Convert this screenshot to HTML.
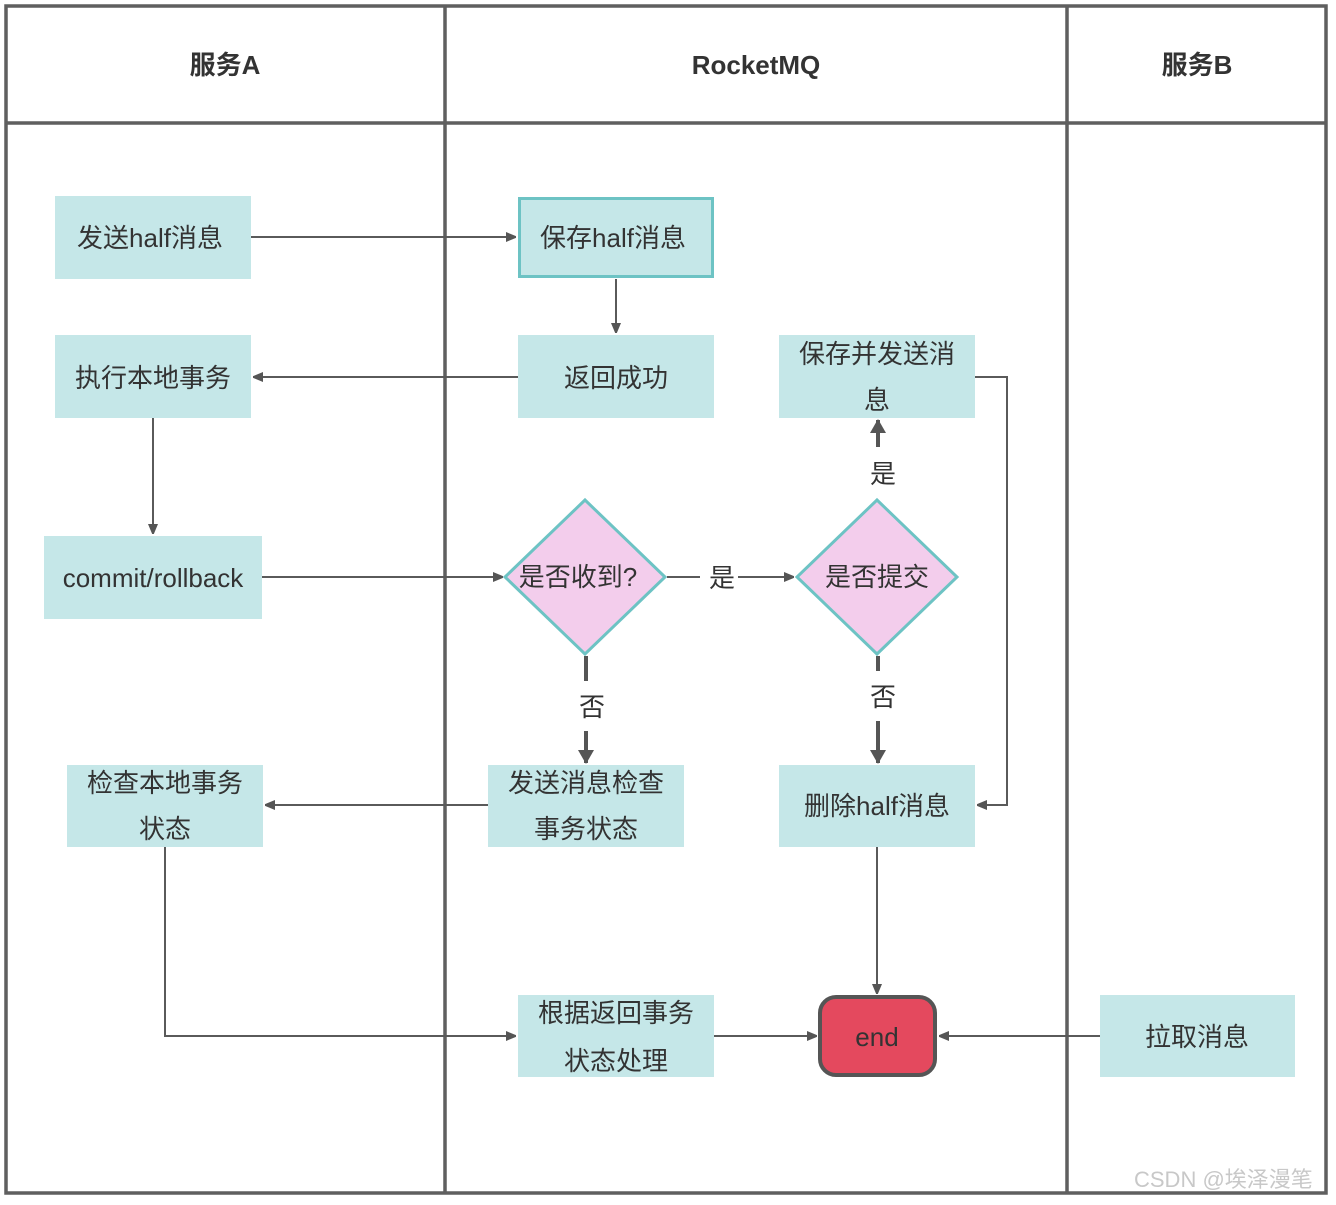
<!DOCTYPE html>
<html><head><meta charset="utf-8"><style>
html,body{margin:0;padding:0;background:#fff;}
svg text{font-family:"Liberation Sans","Noto Sans CJK SC",sans-serif;fill:#333;}
</style></head><body>
<svg width="1336" height="1200" viewBox="0 0 1336 1200" xmlns="http://www.w3.org/2000/svg">
<defs>
<marker id="a" markerWidth="10" markerHeight="10" refX="9" refY="5" orient="auto" markerUnits="userSpaceOnUse"><path d="M0,0 L12,5 L0,10 Z" fill="#555"/></marker>
<marker id="b" markerWidth="14" markerHeight="16" refX="13" refY="8" orient="auto" markerUnits="userSpaceOnUse"><path d="M0,0 L14,8 L0,16 Z" fill="#555"/></marker>
</defs>
<rect x="0" y="0" width="1336" height="1200" fill="#fff"/>
<!-- lanes -->
<rect x="6" y="6" width="1320" height="1187" fill="none" stroke="#5f5f5f" stroke-width="3.5"/>
<line x1="6" y1="123" x2="1326" y2="123" stroke="#5f5f5f" stroke-width="3.5"/>
<line x1="445" y1="6" x2="445" y2="1193" stroke="#5f5f5f" stroke-width="3.5"/>
<line x1="1067" y1="6" x2="1067" y2="1193" stroke="#5f5f5f" stroke-width="3.5"/>
<g font-weight="bold" font-size="26" text-anchor="middle">
<text x="225" y="74">服务A</text>
<text x="756" y="74">RocketMQ</text>
<text x="1197" y="74">服务B</text>
</g>
<!-- connectors -->
<g stroke="#5a5a5a" stroke-width="2" fill="none">
<line x1="251" y1="237" x2="515" y2="237" marker-end="url(#a)"/>
<line x1="616" y1="279" x2="616" y2="332" marker-end="url(#a)"/>
<line x1="518" y1="377" x2="254" y2="377" marker-end="url(#a)"/>
<line x1="153" y1="418" x2="153" y2="533" marker-end="url(#a)"/>
<line x1="262" y1="577" x2="502" y2="577" marker-end="url(#a)"/>
<line x1="667" y1="577" x2="700" y2="577"/>
<line x1="738" y1="577" x2="793" y2="577" marker-end="url(#a)"/>
<polyline points="975,377 1007,377 1007,805 978,805" marker-end="url(#a)"/>
<line x1="488" y1="805" x2="266" y2="805" marker-end="url(#a)"/>
<polyline points="165,847 165,1036 515,1036" marker-end="url(#a)"/>
<line x1="714" y1="1036" x2="816" y2="1036" marker-end="url(#a)"/>
<line x1="877" y1="847" x2="877" y2="993" marker-end="url(#a)"/>
<line x1="1100" y1="1036" x2="940" y2="1036" marker-end="url(#a)"/>
</g>
<g stroke="#555" stroke-width="4" fill="none">
<line x1="586" y1="656" x2="586" y2="681"/>
<line x1="586" y1="731" x2="586" y2="763" marker-end="url(#b)"/>
<line x1="878" y1="656" x2="878" y2="671"/>
<line x1="878" y1="721" x2="878" y2="763" marker-end="url(#b)"/>
<line x1="878" y1="447" x2="878" y2="420" marker-end="url(#b)"/>
</g>
<g font-size="26" text-anchor="middle">
<text x="592" y="716">否</text>
<text x="883" y="706">否</text>
<text x="883" y="483">是</text>
<text x="722" y="587">是</text>
</g>
<!-- boxes -->
<g fill="#c5e7e8">
<rect x="55" y="196" width="196" height="83"/>
<rect x="55" y="335" width="196" height="83"/>
<rect x="518" y="335" width="196" height="83"/>
<rect x="779" y="335" width="196" height="83"/>
<rect x="44" y="536" width="218" height="83"/>
<rect x="67" y="765" width="196" height="82"/>
<rect x="488" y="765" width="196" height="82"/>
<rect x="779" y="765" width="196" height="82"/>
<rect x="518" y="995" width="196" height="82"/>
<rect x="1100" y="995" width="195" height="82"/>
</g>
<rect x="519.5" y="198.5" width="193" height="78" fill="#c5e7e8" stroke="#6dc3c4" stroke-width="3"/>
<polygon points="585,500 665,577 585,654 505,577" fill="#f3cdec" stroke="#6dc3c4" stroke-width="3"/>
<polygon points="877,500 957,577 877,654 797,577" fill="#f3cdec" stroke="#6dc3c4" stroke-width="3"/>
<rect x="820" y="997" width="115" height="78" rx="16" fill="#e4495e" stroke="#555" stroke-width="4"/>
<g font-size="26" text-anchor="middle">
<text x="150" y="247">发送half消息</text>
<text x="613" y="247">保存half消息</text>
<text x="153" y="387">执行本地事务</text>
<text x="616" y="387">返回成功</text>
<text x="877" y="363">保存并发送消</text>
<text x="877" y="409">息</text>
<text x="153" y="587">commit/rollback</text>
<text x="578" y="586">是否收到?</text>
<text x="877" y="586">是否提交</text>
<text x="165" y="792">检查本地事务</text>
<text x="165" y="838">状态</text>
<text x="586" y="792">发送消息检查</text>
<text x="586" y="838">事务状态</text>
<text x="877" y="815">删除half消息</text>
<text x="616" y="1022">根据返回事务</text>
<text x="616" y="1070">状态处理</text>
<text x="877" y="1046">end</text>
<text x="1197" y="1046">拉取消息</text>
</g>
<text x="1134" y="1187" font-size="22" style="fill:#c8c8c8">CSDN @埃泽漫笔</text>
</svg>
</body></html>
